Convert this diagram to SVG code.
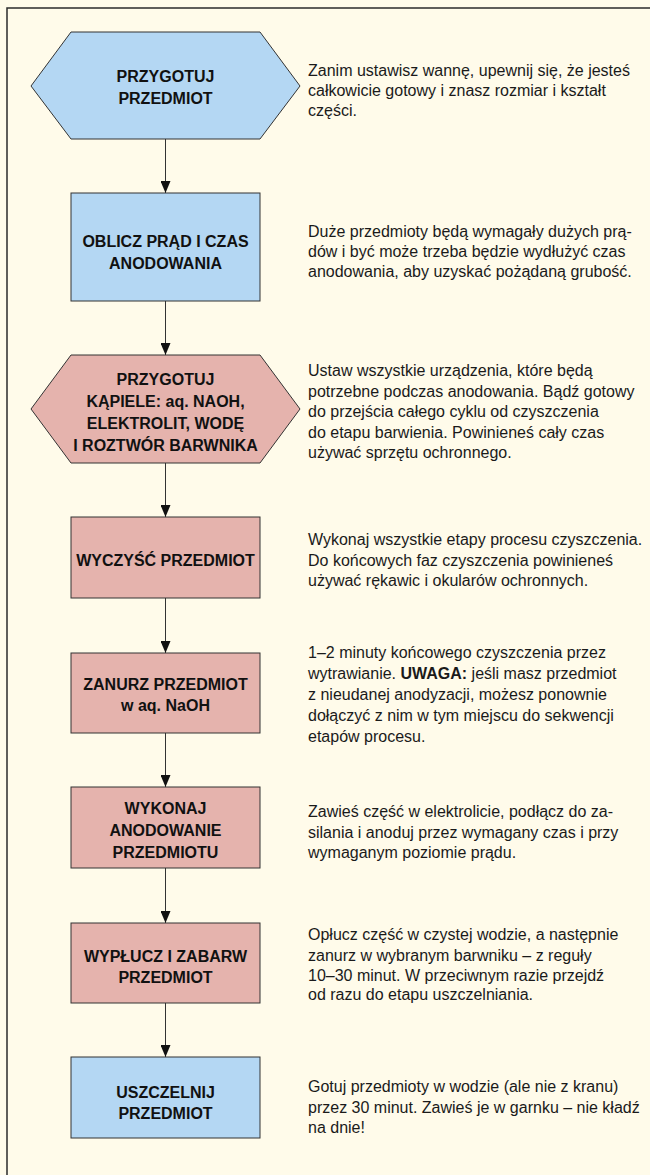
<svg xmlns="http://www.w3.org/2000/svg" width="650" height="1175" viewBox="0 0 650 1175">
<style>
.bg{fill:#FFFBEA}
.frame{fill:none;stroke:#2b2b2b;stroke-width:1.5}
.blue{fill:#B4D7F3;stroke:#333;stroke-width:1}
.pink{fill:#E5B3AD;stroke:#333;stroke-width:1}
.nt{font-family:"Liberation Sans",Arial,sans-serif;font-weight:bold;font-size:16px;fill:#111;text-anchor:middle}
.dt{font-family:"Liberation Sans",Arial,sans-serif;font-size:16px;fill:#1a1a1a}
.b{font-weight:bold}
.conn{stroke:#333;stroke-width:1;fill:none;marker-end:url(#arr)}
</style>
<defs>
<marker id="arr" markerUnits="userSpaceOnUse" markerWidth="10" markerHeight="12" viewBox="0 0 10 12" refX="5" refY="12" orient="0">
<path d="M0,0 L10,0 L5,12 z" fill="#111"/>
</marker>
</defs>
<rect class="bg" x="0" y="0" width="650" height="1175"/>
<rect class="frame" x="7" y="8" width="700" height="1220"/>

<g id="connectors">
<line class="conn" x1="165.5" y1="139" x2="165.5" y2="193"/>
<line class="conn" x1="165.5" y1="301" x2="165.5" y2="355"/>
<line class="conn" x1="165.5" y1="463" x2="165.5" y2="517"/>
<line class="conn" x1="165.5" y1="598" x2="165.5" y2="653"/>
<line class="conn" x1="165.5" y1="733" x2="165.5" y2="787"/>
<line class="conn" x1="165.5" y1="868" x2="165.5" y2="923"/>
<line class="conn" x1="165.5" y1="1003" x2="165.5" y2="1057"/>
</g>

<g id="n1">
<polygon class="blue" points="31,86 71,32 260,32 300,86 260,139 71,139"/>
<text class="nt" x="165.5" y="82">PRZYGOTUJ</text>
<text class="nt" x="165.5" y="104">PRZEDMIOT</text>
</g>
<g id="d1">
<text class="dt" x="308" y="76">Zanim ustawisz wannę, upewnij się, że jesteś</text>
<text class="dt" x="308" y="96">całkowicie gotowy i znasz rozmiar i kształt</text>
<text class="dt" x="308" y="116">części.</text>
</g>

<g id="n2">
<rect class="blue" x="71" y="193" width="189" height="108"/>
<text class="nt" x="165.5" y="247">OBLICZ PRĄD I CZAS</text>
<text class="nt" x="165.5" y="269">ANODOWANIA</text>
</g>
<g id="d2">
<text class="dt" x="308" y="237">Duże przedmioty będą wymagały dużych prą-</text>
<text class="dt" x="308" y="257">dów i być może trzeba będzie wydłużyć czas</text>
<text class="dt" x="308" y="277">anodowania, aby uzyskać pożądaną grubość.</text>
</g>

<g id="n3">
<polygon class="pink" points="31,409 71,355 260,355 300,409 260,463 71,463"/>
<text class="nt" x="165.5" y="385">PRZYGOTUJ</text>
<text class="nt" x="165.5" y="407">KĄPIELE: aq. NAOH,</text>
<text class="nt" x="165.5" y="429">ELEKTROLIT, WODĘ</text>
<text class="nt" x="165.5" y="451">I ROZTWÓR BARWNIKA</text>
</g>
<g id="d3">
<text class="dt" x="308" y="376">Ustaw wszystkie urządzenia, które będą</text>
<text class="dt" x="308" y="396.5">potrzebne podczas anodowania. Bądź gotowy</text>
<text class="dt" x="308" y="417">do przejścia całego cyklu od czyszczenia</text>
<text class="dt" x="308" y="437.5">do etapu barwienia. Powinieneś cały czas</text>
<text class="dt" x="308" y="458">używać sprzętu ochronnego.</text>
</g>

<g id="n4">
<rect class="pink" x="71" y="517" width="189" height="81"/>
<text class="nt" x="165.5" y="566">WYCZYŚĆ PRZEDMIOT</text>
</g>
<g id="d4">
<text class="dt" x="308" y="545">Wykonaj wszystkie etapy procesu czyszczenia.</text>
<text class="dt" x="308" y="565.5">Do końcowych faz czyszczenia powinieneś</text>
<text class="dt" x="308" y="586">używać rękawic i okularów ochronnych.</text>
</g>

<g id="n5">
<rect class="pink" x="71" y="653" width="189" height="80"/>
<text class="nt" x="165.5" y="690">ZANURZ PRZEDMIOT</text>
<text class="nt" x="165.5" y="711">w aq. NaOH</text>
</g>
<g id="d5">
<text class="dt" x="308" y="658">1–2 minuty końcowego czyszczenia przez</text>
<text class="dt" x="308" y="679">wytrawianie. <tspan class="b">UWAGA:</tspan> jeśli masz przedmiot</text>
<text class="dt" x="308" y="700">z nieudanej anodyzacji, możesz ponownie</text>
<text class="dt" x="308" y="721">dołączyć z nim w tym miejscu do sekwencji</text>
<text class="dt" x="308" y="742">etapów procesu.</text>
</g>

<g id="n6">
<rect class="pink" x="71" y="787" width="189" height="81"/>
<text class="nt" x="165.5" y="814">WYKONAJ</text>
<text class="nt" x="165.5" y="836">ANODOWANIE</text>
<text class="nt" x="165.5" y="858">PRZEDMIOTU</text>
</g>
<g id="d6">
<text class="dt" x="308" y="817">Zawieś część w elektrolicie, podłącz do za-</text>
<text class="dt" x="308" y="838">silania i anoduj przez wymagany czas i przy</text>
<text class="dt" x="308" y="858">wymaganym poziomie prądu.</text>
</g>

<g id="n7">
<rect class="pink" x="71" y="923" width="189" height="80"/>
<text class="nt" x="165.5" y="962">WYPŁUCZ I ZABARW</text>
<text class="nt" x="165.5" y="983">PRZEDMIOT</text>
</g>
<g id="d7">
<text class="dt" x="308" y="940">Opłucz część w czystej wodzie, a następnie</text>
<text class="dt" x="308" y="960.5">zanurz w wybranym barwniku – z reguły</text>
<text class="dt" x="308" y="980.5">10–30 minut. W przeciwnym razie przejdź</text>
<text class="dt" x="308" y="1000">od razu do etapu uszczelniania.</text>
</g>

<g id="n8">
<rect class="blue" x="71" y="1057" width="189" height="81"/>
<text class="nt" x="165.5" y="1098">USZCZELNIJ</text>
<text class="nt" x="165.5" y="1119">PRZEDMIOT</text>
</g>
<g id="d8">
<text class="dt" x="308" y="1092">Gotuj przedmioty w wodzie (ale nie z kranu)</text>
<text class="dt" x="308" y="1112.5">przez 30 minut. Zawieś je w garnku – nie kładź</text>
<text class="dt" x="308" y="1133">na dnie!</text>
</g>
</svg>
